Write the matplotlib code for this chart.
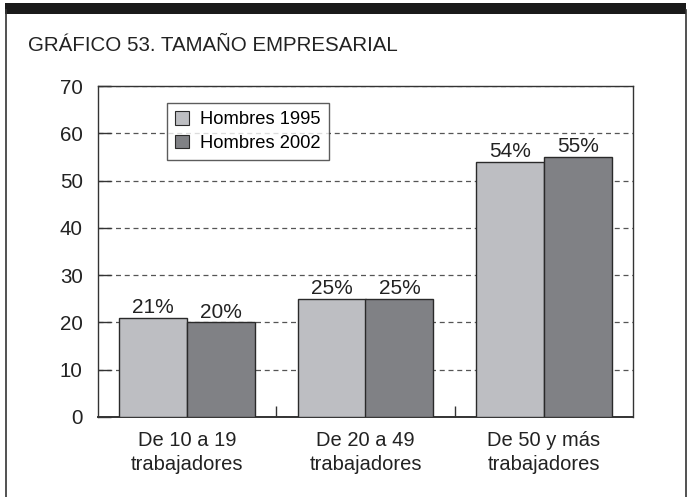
import matplotlib
matplotlib.use("Agg")
import matplotlib.pyplot as plt
from matplotlib.patches import Rectangle
from matplotlib.lines import Line2D
import numpy as np

categories = ["De 10 a 19\ntrabajadores", "De 20 a 49\ntrabajadores", "De 50 y más\ntrabajadores"]
series_names = ["Hombres 1995", "Hombres 2002"]
hombres_1995 = [21, 25, 54]
hombres_2002 = [20, 25, 55]
y_ticks = [0, 10, 20, 30, 40, 50, 60, 70]
title = "GRÁFICO 53. TAMAÑO EMPRESARIAL"

plt.rcParams["font.family"] = ["Liberation Sans", "DejaVu Sans"]

W, H = 688, 497
fig = plt.figure(figsize=(W / 100, H / 100), dpi=100)

# page frame: thick top rule plus thin side rules
fig.add_artist(Rectangle((5 / W, 1 - 14 / H), (686 - 5) / W, 11 / H,
                         transform=fig.transFigure, facecolor="#1a1a1a",
                         edgecolor="none"))
fig.add_artist(Line2D([5.5 / W, 5.5 / W], [0, 1 - 10 / H], transform=fig.transFigure,
                      color="#333333", lw=1.2))
fig.add_artist(Line2D([685.5 / W, 685.5 / W], [0, 1 - 10 / H], transform=fig.transFigure,
                      color="#333333", lw=1.2))

fig.text(28 / W, 1 - 46 / H, title, ha="left", va="center", fontsize=14.8,
         color="#222222")

ax = fig.add_axes([98 / W, 1 - 417 / H, (633 - 98) / W, (417 - 86) / H])

x = np.arange(len(categories))
bw = 0.38
colors = ["#bdbec2", "#808185"]
b1 = ax.bar(x - bw / 2, hombres_1995, bw, color=colors[0], edgecolor="#2a2a2a",
            linewidth=1, label=series_names[0], zorder=3)
b2 = ax.bar(x + bw / 2, hombres_2002, bw, color=colors[1], edgecolor="#2a2a2a",
            linewidth=1, label=series_names[1], zorder=3)

for bars, vals in ((b1, hombres_1995), (b2, hombres_2002)):
    for rect, v in zip(bars, vals):
        ax.annotate(f"{v}%", (rect.get_x() + rect.get_width() / 2, v),
                    xytext=(0, 0.5), textcoords="offset points",
                    ha="center", va="bottom", fontsize=15, color="#222222")

ax.set_xlim(-0.5, len(categories) - 0.5)
ax.set_ylim(0, 70)
ax.set_yticks(y_ticks)
ax.tick_params(axis="y", direction="in", length=9, width=1, color="#333333",
               labelsize=14.8, pad=11, labelcolor="#222222")
ax.set_xticks(x)
ax.set_xticklabels(categories, fontsize=14.5, color="#222222", linespacing=1.35)
ax.tick_params(axis="x", which="major", length=0, pad=10)
ax.set_xticks([0.5, 1.5], minor=True)
ax.tick_params(axis="x", which="minor", direction="in", length=8, width=1,
               color="#333333")

ax.yaxis.grid(True, linestyle=(0, (4, 3)), color="#555555", linewidth=0.9, zorder=0)
ax.set_axisbelow(True)
for s in ax.spines.values():
    s.set_color("#333333")
    s.set_linewidth(1)
ax.spines["bottom"].set_linewidth(1.4)

leg = ax.legend(loc="upper left", bbox_to_anchor=(0.129, 0.949), borderaxespad=0,
                fontsize=13.2, frameon=True, fancybox=False, handlelength=0.75,
                handleheight=0.75, handletextpad=0.6, borderpad=0.45,
                labelspacing=0.35)
leg.get_frame().set_edgecolor("#333333")
leg.get_frame().set_linewidth(1)
for h in leg.legend_handles:
    h.set_linewidth(0.8)

fig.savefig("out.png", dpi=100)
